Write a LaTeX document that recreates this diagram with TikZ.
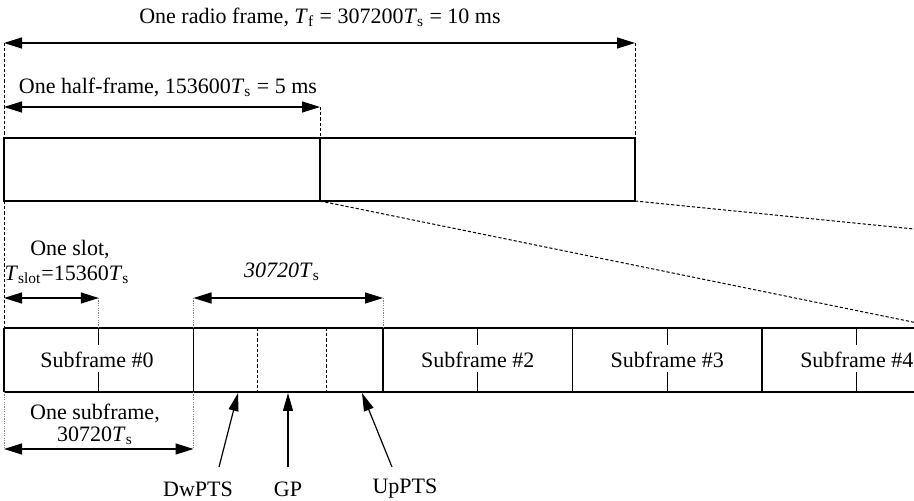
\documentclass[tikz,border=0pt]{standalone}
\usepackage{fontspec}
\setmainfont{Liberation Serif}
\usetikzlibrary{arrows.meta}
\begin{document}
\begin{tikzpicture}[x=0.5pt,y=-0.5pt,
  line/.style={line width=0.6pt,black},
  dim/.style={line width=0.6pt,black,{Triangle[length=9pt,width=5.5pt]}-{Triangle[length=9pt,width=5.5pt]}},
  ptr/.style={line width=0.6pt,black,-{Triangle[length=9pt,width=5pt]}},
  dsh/.style={line width=0.5pt,dash pattern=on 1.6pt off 1pt},
  dot/.style={line width=0.4pt,gray,dash pattern=on 0.6pt off 0.6pt},
  lbl/.style={inner sep=0pt,font=\fontsize{11pt}{13pt}\selectfont},
  every node/.style={lbl}]
\useasboundingbox (0,0) rectangle (914,501);
\clip (0,0) rectangle (914,501);
% key coordinates
\coordinate (fL) at (4,138); \coordinate (fM) at (320,138); \coordinate (fR) at (635,138);
\coordinate (bL) at (4,201); \coordinate (bM) at (320,201); \coordinate (bR) at (635,201);
\coordinate (aL) at (4,43); \coordinate (aR) at (635,43);
\coordinate (hL) at (4,107); \coordinate (hR) at (320,107);
% frame
\draw[line] (fL) rectangle (bR);
\draw[line] (fM) -- (bM);
% radio frame arrow
\draw[dim] (aL) -- (aR);
\draw[dsh] (aL) -- (fL);
\draw[dsh] (aR) -- (fR);
\node (tf) at (320,17) {One radio frame, \textit{T}\textsubscript{f} = 307200\textit{T}\textsubscript{s} = 10 ms};
% half frame arrow
\draw[dim] (hL) -- (hR);
\draw[dsh] (hR) -- (fM);
\node (th) at (168,87) {One half-frame, 153600\textit{T}\textsubscript{s} = 5 ms};
% zoom lines
\coordinate (z1) at (942,328); \coordinate (z2) at (914,229);
\draw[dsh] (bM) -- (z1);
\draw[dsh] (bR) -- (z2);
% row of subframes
\coordinate (rTL) at (4,328); \coordinate (rBL) at (4,392);
\coordinate (rTR) at (914,328); \coordinate (rBR) at (914,392);
\draw[dsh] (bL) -- (rTL);
\draw[line] (rTL) -- (rTR);
\draw[line] (rBL) -- (rBR);
\foreach \x in {4,193.5,383,572.5,762}{\draw[line] (\x,328) -- (\x,392);}
\foreach \x in {98.75,477.75,667.25,856.75}{
  \draw[line] (\x,328) -- (\x,345);
  \draw[line] (\x,372) -- (\x,392);}
\draw[dsh] (257,328) -- (257,392);
\draw[dsh] (326,328) -- (326,392);
\node (s0) at (97,360) {Subframe \#0};
\node (s2) at (477.75,360) {Subframe \#2};
\node (s3) at (667.25,360) {Subframe \#3};
\node (s4) at (856.75,360) {Subframe \#4};
% slot arrow
\coordinate (slL) at (4,298); \coordinate (slR) at (98.75,298);
\draw[dim] (slL) -- (slR);
\draw[dot] (slR) -- (98.75,328);
\node (tsl1) at (70,250) {One slot,};
\node (tsl2) at (67,275) {\textit{T}\textsubscript{slot}=15360\textit{T}\textsubscript{s}};
% special subframe arrow
\coordinate (spL) at (193.5,298); \coordinate (spR) at (383,298);
\draw[dim] (spL) -- (spR);
\draw[dot] (spL) -- (193.5,328);
\draw[dot] (spR) -- (383,328);
\node (tsp) at (282,272) {\textit{30720T}\textsubscript{s}};
% subframe arrow
\coordinate (sfL) at (4,449); \coordinate (sfR) at (193.5,449);
\draw[dim] (sfL) -- (sfR);
\draw[dot] (rBL) -- (sfL);
\draw[dot] (193.5,392) -- (sfR);
\node (tsf1) at (95,413) {One subframe,};
\node (tsf2) at (95,436) {30720\textit{T}\textsubscript{s}};
% pointers
\node (dw) at (198,489) {DwPTS};
\node (gp) at (288,489) {GP};
\node (up) at (405,489) {UpPTS};
\draw[ptr] (219,467) -- (238,393);
\draw[ptr] (288,467) -- (288,393);
\draw[ptr] (392,467) -- (362,393);
\end{tikzpicture}
\end{document}
